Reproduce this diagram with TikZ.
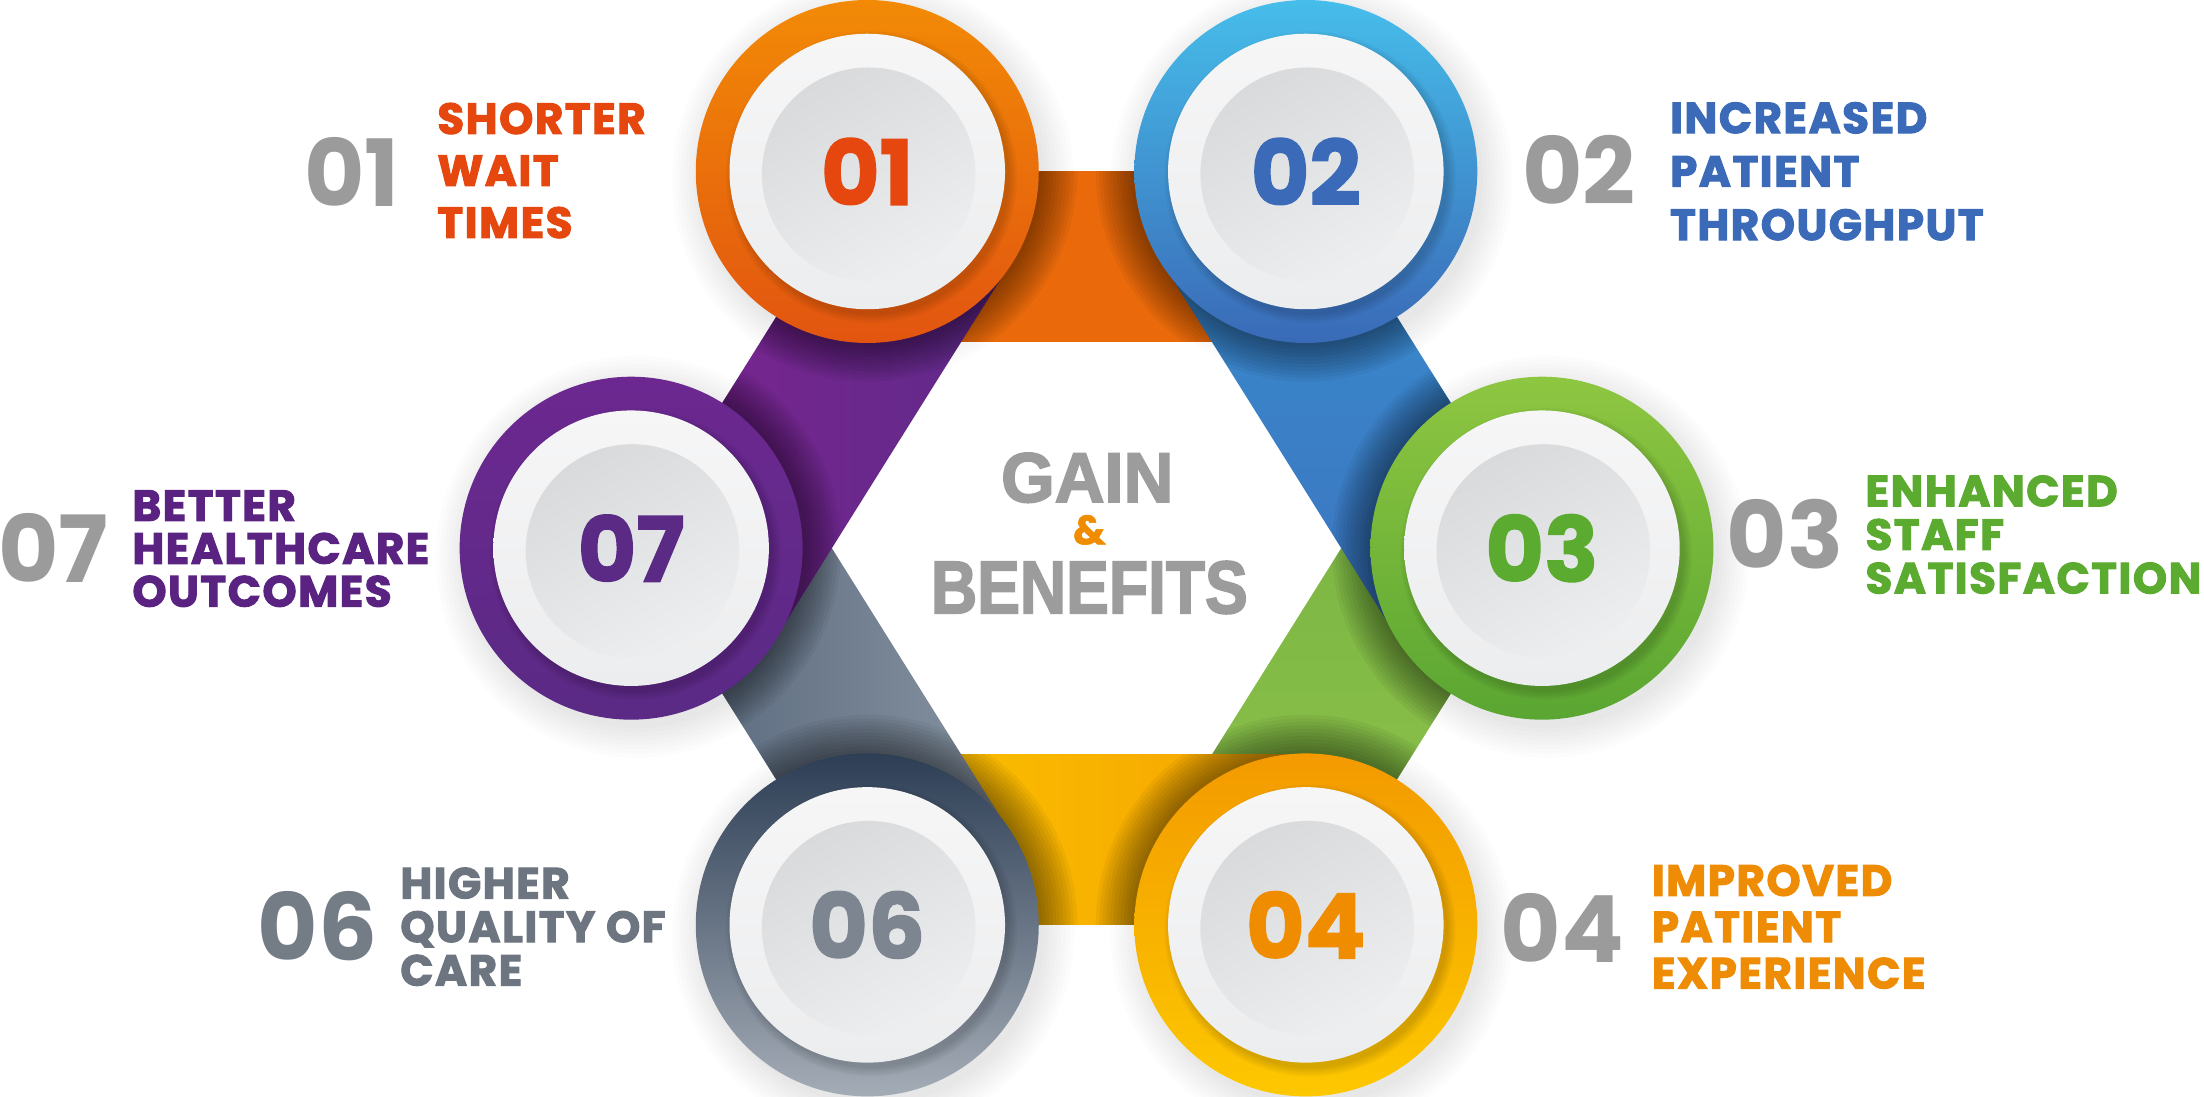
\documentclass[tikz,border=0pt]{standalone}
\usepackage{fontspec}
\usepackage{graphicx}
\setmainfont{Poppins}
\newfontfamily\numfont{Poppins}
\newfontfamily\labfont{Poppins}[BoldFeatures={FakeBold=2.4,LetterSpace=3.5}]
\newfontfamily\cnumfont{Poppins}[BoldFeatures={FakeBold=1.5}]
\newfontfamily\titlefont{Liberation Sans}[BoldFeatures={FakeBold=2.5}]
\usetikzlibrary{calc}

\definecolor{numgrey}{HTML}{9B9B9B}
\definecolor{titlegrey}{HTML}{9C9C9C}
\definecolor{ampor}{HTML}{F08C00}
% theme colours
\definecolor{orA}{HTML}{F28A06}\definecolor{orB}{HTML}{E25510}\definecolor{orBand}{HTML}{EA6A0B}\definecolor{orTxt}{HTML}{E5470F}
\definecolor{blA}{HTML}{46BDEA}\definecolor{blB}{HTML}{3A6AB7}\definecolor{blTxt}{HTML}{3B6BB8}
\definecolor{blR1}{HTML}{3A8ED0}\definecolor{blR2}{HTML}{3AA3DC}\definecolor{blR3}{HTML}{3B74BF}
\definecolor{grA}{HTML}{8EC641}\definecolor{grB}{HTML}{5AA632}\definecolor{grTxt}{HTML}{5BAB30}
\definecolor{grR1}{HTML}{7BB443}\definecolor{grR2}{HTML}{8CC34B}
\definecolor{yeA}{HTML}{F39A00}\definecolor{yeB}{HTML}{FDC800}\definecolor{yeTxt}{HTML}{EE8C06}\definecolor{yeNum}{HTML}{F08C00}
\definecolor{yeR1}{HTML}{FCC300}\definecolor{yeR2}{HTML}{F4A200}
\definecolor{slA}{HTML}{2D3E55}\definecolor{slB}{HTML}{A4ACB6}\definecolor{slTxt}{HTML}{6D7680}\definecolor{slNum}{HTML}{7D8690}\definecolor{slGrey}{HTML}{747C86}
\definecolor{slR1}{HTML}{536378}\definecolor{slR2}{HTML}{8894A2}
\definecolor{puA}{HTML}{6C2890}\definecolor{puB}{HTML}{5A2A85}\definecolor{puTxt}{HTML}{5A2382}
\definecolor{puR1}{HTML}{7E2391}\definecolor{puR2}{HTML}{5E2B89}
\definecolor{discA}{HTML}{F6F6F7}\definecolor{discB}{HTML}{ECEDEE}
\definecolor{innA}{HTML}{D9DADC}\definecolor{innB}{HTML}{EDEEEF}

\newcommand{\softshadow}[1]{%
  \foreach \k in {1,...,12}{\fill[black,opacity=0.045] (#1) circle ({122+30-2.5*\k});}}
\newcommand{\faintshadow}[1]{%
  \foreach \k in {1,...,8}{\fill[black,opacity=0.012] ($(#1)+(4,6)$) circle ({122+24-3*\k});}}

\begin{document}
\begin{tikzpicture}[x=1pt,y=-1pt,
  lab/.style={anchor=north west, inner sep=0pt, align=left,
              font=\labfont\bfseries\fontsize{31}{#1}\selectfont},
  gnum/.style={inner sep=0pt, text=numgrey, font=\numfont\bfseries\fontsize{66}{66}\selectfont},
  cnum/.style={inner sep=0pt, font=\cnumfont\bfseries\fontsize{64}{64}\selectfont},
  ring/.style={shading angle=#1},
  disc/.style={top color=discA, bottom color=discB},
  inner/.style={top color=innA, bottom color=innB, shading angle=30}]

\useasboundingbox (0,0) rectangle (1568,780.4);
\fill[white] (0,0) rectangle (1568,780.4);

% circle centres
\coordinate (C1) at (617,122);
\coordinate (C2) at (929,122);
\coordinate (C3) at (1097,390);
\coordinate (C4) at (929,658);
\coordinate (C6) at (617,658);
\coordinate (C7) at (449,390);
% inner corners of the ribbons
\coordinate (A1) at (617,243);   \coordinate (A2) at (929,243);
\coordinate (B2) at (826.5,186.3); \coordinate (B3) at (994.5,454.3);
\coordinate (D3) at (994.5,325.7); \coordinate (D4) at (826.5,593.7);
\coordinate (E4) at (929,537);   \coordinate (E6) at (617,537);
\coordinate (F6) at (719.5,593.7); \coordinate (F7) at (551.5,325.7);
\coordinate (G7) at (551.5,454.3); \coordinate (G1) at (719.5,186.3);

% faint shadows on the white ground
\foreach \c in {C1,C2,C3,C4,C6,C7}{\faintshadow{\c}}

% ---- ribbons (bottom to top) ----
% green 03-04
\shade[top color=grR1, bottom color=grR2] (C3) -- (C4) -- (D4) -- (D3) -- cycle;
\begin{scope}\clip (C3) -- (C4) -- (D4) -- (D3) -- cycle; \softshadow{C3}\softshadow{C4}\end{scope}
% orange 01-02
\fill[orBand] (C1) -- (C2) -- (A2) -- (A1) -- cycle;
\begin{scope}\clip (C1) -- (C2) -- (A2) -- (A1) -- cycle; \softshadow{C1}\softshadow{C2}\end{scope}
% yellow 04-06
\shade[left color=yeR1, right color=yeR2] (C4) -- (C6) -- (E6) -- (E4) -- cycle;
\begin{scope}\clip (C4) -- (C6) -- (E6) -- (E4) -- cycle; \softshadow{C4}\softshadow{C6}\end{scope}
% slate 06-07
\shade[left color=slR1, right color=slR2] (C6) -- (C7) -- (F7) -- (F6) -- cycle;
\begin{scope}\clip (C6) -- (C7) -- (F7) -- (F6) -- cycle; \softshadow{C6}\softshadow{C7}\end{scope}
% purple 07-01
\shade[left color=puR1, right color=puR2] (C7) -- (C1) -- (G1) -- (G7) -- cycle;
\begin{scope}\clip (C7) -- (C1) -- (G1) -- (G7) -- cycle; \softshadow{C7}\softshadow{C1}\end{scope}
% blue 02-03
\shade[top color=blR1, middle color=blR2, bottom color=blR3] (C2) -- (C3) -- (B3) -- (B2) -- cycle;
\begin{scope}\clip (C2) -- (C3) -- (B3) -- (B2) -- cycle; \softshadow{C2}\softshadow{C3}\end{scope}

% ---- circles ----
\shade[ring=45,  top color=orA, bottom color=orB] (C1) circle (122);
\shade[ring=20,  top color=blA, bottom color=blB] (C2) circle (122);
\shade[ring=-45, top color=grA, bottom color=grB] (C3) circle (122);
\shade[ring=-45, top color=yeA, bottom color=yeB] (C4) circle (122);
\shade[ring=-45, top color=slA, bottom color=slB] (C6) circle (122);
\shade[ring=-45, top color=puA, bottom color=puB] (C7) circle (122);
\foreach \c in {C1,C2,C3,C4,C6,C7}{
  \foreach \k in {1,...,5}{\fill[black,opacity=0.03] ($(\c)+(3,4)$) circle ({98+7-1.4*\k});}
  \shade[disc] (\c) circle (98);
  \shade[inner] ($(\c)+(1,2)$) circle (76);
}

% numbers in the circles
\node[cnum, text=orTxt] (k1) at (C1) {01};
\node[cnum, text=blTxt] (k2) at (C2) {02};
\node[cnum, text=grTxt] (k3) at (C3) {03};
\node[cnum, text=yeNum] (k4) at (C4) {04};
\node[cnum, text=slNum] (k6) at (C6) {06};
\node[cnum, text=puB]   (k7) at (C7) {07};

% grey numbers
\node[gnum] (g1) at (250.5,122) {01};
\node[gnum] (g2) at (1123.5,121) {02};
\node[gnum] (g3) at (1270,380) {03};
\node[gnum] (g7) at (38,390) {07};
\node[gnum, text=slGrey] (g6) at (226,659) {06};
\node[gnum] (g4) at (1111.5,660) {04};

% labels
\node[lab=37, text=orTxt] (t1) at (311,73) {SHORTER\\WAIT\\TIMES};
\node[lab=38, text=blTxt] (t2) at (1188,72.5) {INCREASED\\PATIENT\\THROUGHPUT};
\node[lab=31, text=grTxt] (t3) at (1327,338) {ENHANCED\\STAFF\\SATISFACTION};
\node[lab=30.5, text=puTxt] (t7) at (94,348.6) {BETTER\\HEALTHCARE\\OUTCOMES};
\node[lab=31, text=slTxt] (t6) at (284.6,617) {HIGHER\\QUALITY OF\\CARE};
\node[lab=33, text=yeTxt] (t4) at (1175,615) {IMPROVED\\PATIENT\\EXPERIENCE};

% centre title
\node[anchor=north, inner sep=0pt, text=titlegrey, font=\titlefont\bfseries\fontsize{50}{50}\selectfont] (gain) at (773.5,322) {\scalebox{0.98}[1]{GAIN}};
\node[inner sep=0pt, text=ampor, font=\cnumfont\bfseries\fontsize{29}{29}\selectfont] (amp) at (775,377) {\&};
\node[anchor=north, inner sep=0pt, text=titlegrey, font=\titlefont\bfseries\fontsize{53}{53}\selectfont] (ben) at (775,399) {\scalebox{0.86}[1]{BENEFITS}};
\end{tikzpicture}
\end{document}
